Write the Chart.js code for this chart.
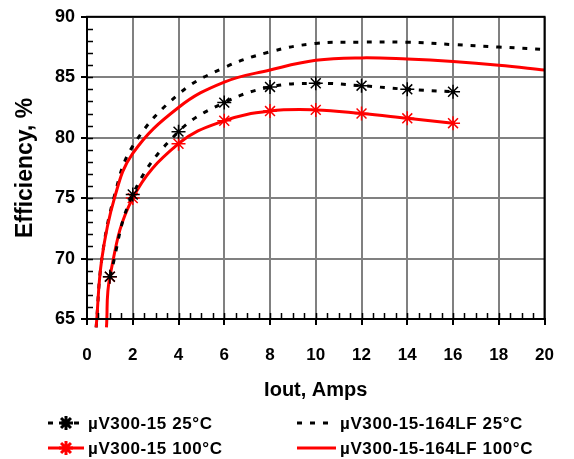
<!DOCTYPE html>
<html>
<head>
<meta charset="utf-8">
<script src="https://cdn.jsdelivr.net/npm/chart.js@4"></script>
<style>
  html, body { margin: 0; padding: 0; background: #fff; }
  #wrap { width: 574px; height: 459px; }
</style>
</head>
<body>
<div id="wrap"><canvas id="effChart" width="574" height="459"></canvas></div>
<script>
// values
const ioutStd = [1, 2, 4, 6, 8, 10, 12, 14, 16];
const effStd25 = [68.5, 75.3, 80.5, 82.9, 84.2, 84.5, 84.3, 84.0, 83.8];

const ioutStd100 = [0.85, 1, 2, 4, 6, 8, 10, 12, 14, 16];
const effStd100 = [64.3, 68.5, 75.0, 79.5, 81.4, 82.2, 82.3, 82.0, 81.6, 81.2];

const ioutLF = [0.4, 0.65, 1.2, 2, 4, 6, 8, 10, 12, 14, 16, 18, 20];
const effLF25 = [64.3, 70.0, 75.2, 79.3, 83.6, 85.8, 87.1, 87.8, 87.9, 87.9, 87.7, 87.5, 87.3];
const effLF100 = [64.3, 70.0, 75.0, 78.7, 82.5, 84.6, 85.6, 86.4, 86.6, 86.5, 86.3, 86.0, 85.6];

const seriesNames = ['µV300-15 25°C', 'µV300-15-164LF 25°C', 'µV300-15 100°C', 'µV300-15-164LF 100°C'];
const xTicks = [0, 2, 4, 6, 8, 10, 12, 14, 16, 18, 20];
const yTicks = [65, 70, 75, 80, 85, 90];

function toPoints(xs, ys) {
    return xs.map((x, i) => ({ x: x, y: ys[i] }));
}

const RED = '#ff0000';
const FONT = '"Liberation Sans", Arial, sans-serif';

// minor tick marks drawn inward + black frame round the plot
const frameAndMinor = {
    id: 'frameAndMinor',
    afterDraw(chart) {
        const ctx = chart.ctx;
        const a = chart.chartArea;
        const xs = chart.scales.x, ys = chart.scales.y;
        ctx.save();
        ctx.strokeStyle = '#000';
        ctx.lineWidth = 1.5;
        ctx.beginPath();
        for (let v = 0.5; v < 20; v += 0.5) {
            const px = Math.round(xs.getPixelForValue(v)) + 0.5;
            ctx.moveTo(px, a.bottom);
            ctx.lineTo(px, a.bottom - 6);
        }
        for (let v = 66; v < 90; v += 1) {
            const py = Math.round(ys.getPixelForValue(v)) + 0.5;
            ctx.moveTo(a.left, py);
            ctx.lineTo(a.left + 6, py);
        }
        ctx.stroke();
        ctx.lineWidth = 2;
        ctx.strokeRect(a.left, a.top, a.right - a.left, a.bottom - a.top);
        ctx.restore();
    }
};

// legend in two columns like the original
const legendBox = {
    id: 'legendBox',
    afterDraw(chart) {
        const ctx = chart.ctx;
        const cols = [48, 297];
        const rows = [423, 448];
        ctx.save();
        chart.data.datasets.forEach((ds, i) => {
            const x0 = cols[i % 2];
            const y0 = rows[Math.floor(i / 2)];
            const len = i % 2 === 0 ? 36 : 39;
            ctx.strokeStyle = ds.borderColor;
            ctx.lineWidth = ds.borderWidth;
            ctx.setLineDash(ds.borderDash || []);
            ctx.beginPath();
            ctx.moveTo(x0, y0);
            ctx.lineTo(x0 + len, y0);
            ctx.stroke();
            ctx.setLineDash([]);
            if (ds.pointStyle === 'star') {
                Chart.helpers.drawPoint(ctx, { pointStyle: 'star', radius: 7, borderWidth: 1.5 }, x0 + len / 2, y0);
            }
            ctx.fillStyle = '#000';
            ctx.font = 'bold 17px ' + FONT;
            ctx.letterSpacing = '0.6px';
            ctx.textBaseline = 'middle';
            ctx.fillText(ds.label, x0 + len + 4, y0 + 1);
        });
        ctx.restore();
    }
};

const ctx = document.getElementById('effChart').getContext('2d');
new Chart(ctx, {
    type: 'line',
    data: {
        datasets: [{
            label: seriesNames[0],
            data: toPoints(ioutStd, effStd25),
            borderColor: '#000',
            backgroundColor: '#000',
            borderWidth: 3,
            borderDash: [5, 8],
            pointStyle: 'star',
            pointRadius: 7,
            pointBorderWidth: 1.5,
            pointBorderColor: '#000',
            order: 1
        }, {
            label: seriesNames[1],
            data: toPoints(ioutLF, effLF25),
            borderColor: '#000',
            backgroundColor: '#000',
            borderWidth: 3,
            borderDash: [5, 8],
            pointRadius: 0,
            order: 4
        }, {
            label: seriesNames[2],
            data: toPoints(ioutStd100, effStd100),
            borderColor: RED,
            backgroundColor: RED,
            borderWidth: 3,
            pointStyle: 'star',
            pointRadius: ioutStd100.map(x => x < 1 ? 0 : 7),
            pointBorderWidth: 1.5,
            pointBorderColor: RED,
            order: 2
        }, {
            label: seriesNames[3],
            data: toPoints(ioutLF, effLF100),
            borderColor: RED,
            backgroundColor: RED,
            borderWidth: 3,
            pointRadius: 0,
            order: 3
        }]
    },
    options: {
        responsive: false,
        animation: false,
        elements: { line: { tension: 0.4 } },
        clip: { left: 0, top: 0, right: 0, bottom: 9 },
        layout: { padding: { left: 0, top: 16, right: 21, bottom: 0 } },
        plugins: {
            legend: { display: false },
            tooltip: { enabled: false }
        },
        scales: {
            x: {
                type: 'linear',
                min: 0,
                max: 20,
                afterFit: s => { s.height = 140; },
                afterBuildTicks: s => { s.ticks = xTicks.map(v => ({ value: v })); },
                grid: { color: '#808080', lineWidth: 2, tickLength: 6, tickColor: '#000', tickWidth: 2 },
                border: { color: '#000', width: 2 },
                ticks: { color: '#000', padding: 20, font: { family: FONT, size: 17, weight: 'bold' } },
                title: {
                    display: true,
                    text: 'Iout, Amps',
                    color: '#000',
                    font: { family: FONT, size: 20, weight: 'bold' },
                    padding: { top: 0, bottom: 57 }
                }
            },
            y: {
                min: 65,
                max: 90,
                afterFit: s => { s.width = 87; },
                afterBuildTicks: s => { s.ticks = yTicks.map(v => ({ value: v })); },
                grid: { color: '#808080', lineWidth: 2, tickLength: 6, tickColor: '#000', tickWidth: 2 },
                border: { color: '#000', width: 2 },
                ticks: { color: '#000', padding: 6, font: { family: FONT, size: 18, weight: 'bold' } },
                title: {
                    display: true,
                    text: 'Efficiency, %',
                    color: '#000',
                    font: { family: FONT, size: 23, weight: 'bold' },
                    padding: { top: 12, bottom: 0 }
                }
            }
        }
    },
    plugins: [frameAndMinor, legendBox]
});
</script>
</body>
</html>
